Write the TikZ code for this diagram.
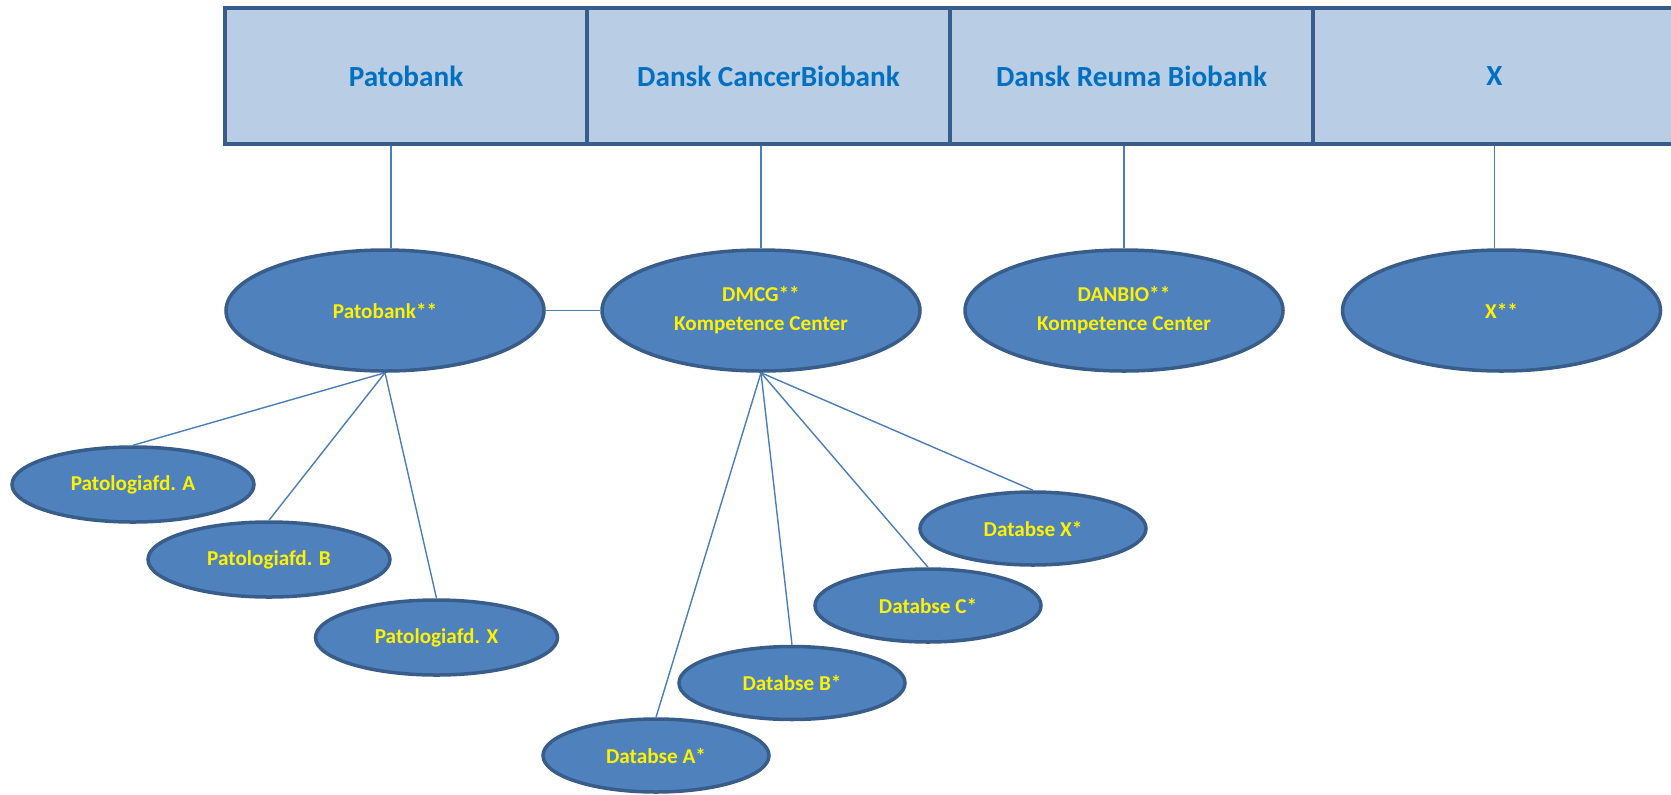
\documentclass[tikz,border=0pt]{standalone}
\usepackage{fontspec}
\setmainfont{Carlito}
\usepackage{tikz}
\usetikzlibrary{shapes,positioning}
\definecolor{darkblue}{RGB}{56,93,138}
\definecolor{lightblue}{RGB}{185,205,229}
\definecolor{midblue}{RGB}{79,129,189}
\definecolor{textblue}{RGB}{0,112,192}
\definecolor{lineblue}{RGB}{74,126,187}

\begin{document}
\begin{tikzpicture}[x=0.5pt,y=-0.5pt]
\tikzstyle{bank}=[rectangle, minimum width=181.5pt, minimum height=68pt, inner sep=0pt, line width=2pt, draw=darkblue, fill=lightblue, text=textblue, font=\fontsize{14.6}{17}\selectfont\bfseries]
\tikzstyle{hub}=[ellipse, minimum width=159pt, minimum height=60.5pt, inner sep=0pt, line width=1.75pt, draw=darkblue, fill=midblue, text=yellow, align=center, font=\fontsize{10.6}{14.5}\selectfont\bfseries]
\tikzstyle{unit}=[hub, minimum width=121pt, minimum height=37.5pt]
\tikzstyle{db}=[hub, minimum width=113pt, minimum height=36.5pt]
\tikzstyle{connect}=[line width=0.7pt, draw=lineblue]
\clip (0,0) rectangle (1671,794);

% biobanks
\node[bank] (h_pato) at (406,76) {Patobank};
\node[bank] (h_dcb) at (768.5,76) {Dansk CancerBiobank};
\node[bank] (h_drb) at (1131.5,76) {Dansk Reuma Biobank};
\node[bank] (h_x) at (1494.5,76) {X};

% centres
\node[hub] (pato) at (385,310.5) {Patobank**};
\node[hub] (dmcg) at (761,310.5) {DMCG**\\Kompetence Center};
\node[hub] (danbio) at (1124,310.5) {DANBIO**\\Kompetence Center};
\node[hub] (x_c) at (1501.5,310.5) {X**};

% departments
\node[unit] (pat_a) at (133,484.5) {Patologiafd. A};
\node[unit] (pat_b) at (269,559.5) {Patologiafd. B};
\node[unit] (pat_x) at (436.5,637.5) {Patologiafd. X};

% databases
\node[db] (db_x) at (1033,528.5) {Databse X*};
\node[db] (db_c) at (928,605.5) {Databse C*};
\node[db] (db_b) at (792,683) {Databse B*};
\node[db] (db_a) at (656,755.5) {Databse A*};

\path[connect]
	([xshift=3pt]pato.north) edge ([xshift=3pt]pato.north |- h_pato.south)
	(dmcg.north) edge (dmcg.north |- h_dcb.south)
	(danbio.north) edge (danbio.north |- h_drb.south)
	(h_x.south) edge (h_x.south |- x_c.north)
	(pato.east) edge (dmcg.west)
	(pato.south) edge (pat_a.north)
	(pato.south) edge (pat_b.north)
	(pato.south) edge (pat_x.north)
	(dmcg.south) edge (db_a.north)
	(dmcg.south) edge (db_b.north)
	(dmcg.south) edge (db_c.north)
	(dmcg.south) edge (db_x.north);
\end{tikzpicture}
\end{document}
